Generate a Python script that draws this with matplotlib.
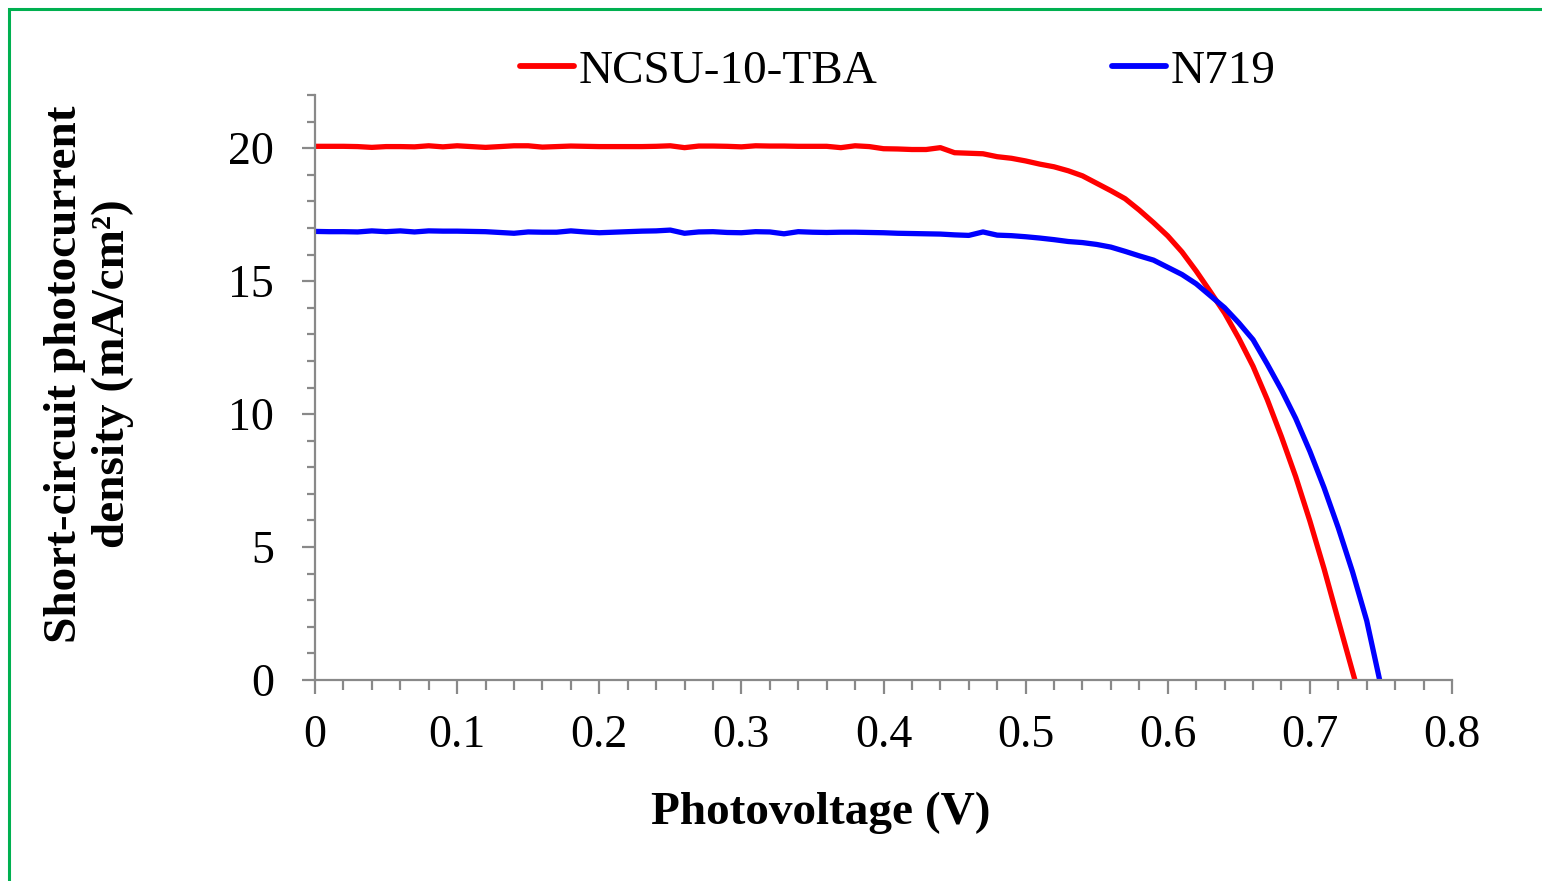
import matplotlib
matplotlib.use("Agg")
import matplotlib.pyplot as plt
from matplotlib.patches import Rectangle
from matplotlib.ticker import MultipleLocator

# ---- data ----
v_ncsu = [0.00, 0.01, 0.02, 0.03, 0.04, 0.05, 0.06, 0.07, 0.08, 0.09,
          0.10, 0.11, 0.12, 0.13, 0.14, 0.15, 0.16, 0.17, 0.18, 0.19,
          0.20, 0.21, 0.22, 0.23, 0.24, 0.25, 0.26, 0.27, 0.28, 0.29,
          0.30, 0.31, 0.32, 0.33, 0.34, 0.35, 0.36, 0.37, 0.38, 0.39,
          0.40, 0.41, 0.42, 0.43, 0.44, 0.45, 0.46, 0.47, 0.48, 0.49,
          0.50, 0.51, 0.52, 0.53, 0.54, 0.55, 0.56, 0.57, 0.58, 0.59,
          0.60, 0.61, 0.62, 0.63, 0.64, 0.65, 0.66, 0.67, 0.68, 0.69,
          0.70, 0.71, 0.72, 0.73, 0.7317]
j_ncsu = [20.07, 20.07, 20.07, 20.06, 20.03, 20.06, 20.06, 20.05, 20.09, 20.05,
          20.09, 20.06, 20.03, 20.06, 20.09, 20.09, 20.04, 20.06, 20.08, 20.07,
          20.06, 20.06, 20.06, 20.06, 20.07, 20.09, 20.02, 20.08, 20.08, 20.07,
          20.05, 20.09, 20.08, 20.08, 20.07, 20.07, 20.07, 20.02, 20.09, 20.06,
          19.98, 19.97, 19.95, 19.95, 20.02, 19.83, 19.81, 19.79, 19.68, 19.62,
          19.52, 19.40, 19.30, 19.15, 18.96, 18.68, 18.40, 18.10, 17.67, 17.20,
          16.70, 16.10, 15.38, 14.60, 13.80, 12.85, 11.80, 10.55, 9.15, 7.65,
          5.98, 4.18, 2.24, 0.32, 0.00]

v_n719 = [0.00, 0.01, 0.02, 0.03, 0.04, 0.05, 0.06, 0.07, 0.08, 0.09,
          0.10, 0.11, 0.12, 0.13, 0.14, 0.15, 0.16, 0.17, 0.18, 0.19,
          0.20, 0.21, 0.22, 0.23, 0.24, 0.25, 0.26, 0.27, 0.28, 0.29,
          0.30, 0.31, 0.32, 0.33, 0.34, 0.35, 0.36, 0.37, 0.38, 0.39,
          0.40, 0.41, 0.42, 0.43, 0.44, 0.45, 0.46, 0.47, 0.48, 0.49,
          0.50, 0.51, 0.52, 0.53, 0.54, 0.55, 0.56, 0.57, 0.58, 0.59,
          0.60, 0.61, 0.62, 0.63, 0.64, 0.65, 0.66, 0.67, 0.68, 0.69,
          0.70, 0.71, 0.72, 0.73, 0.74, 0.7491]
j_n719 = [16.87, 16.86, 16.86, 16.85, 16.89, 16.86, 16.89, 16.85, 16.89, 16.88,
          16.88, 16.87, 16.86, 16.83, 16.80, 16.85, 16.84, 16.84, 16.89, 16.85,
          16.82, 16.84, 16.86, 16.88, 16.89, 16.92, 16.80, 16.85, 16.86, 16.83,
          16.82, 16.86, 16.85, 16.78, 16.86, 16.84, 16.83, 16.84, 16.84, 16.83,
          16.82, 16.80, 16.79, 16.78, 16.77, 16.74, 16.72, 16.85, 16.73, 16.71,
          16.67, 16.62, 16.56, 16.49, 16.45, 16.38, 16.28, 16.12, 15.95, 15.79,
          15.52, 15.25, 14.90, 14.45, 14.00, 13.43, 12.80, 11.88, 10.91, 9.84,
          8.60, 7.23, 5.72, 4.07, 2.23, 0.00]

series_labels = ["NCSU-10-TBA", "N719"]
series_colors = ["#FF0000", "#0000FF"]
x_ticks = [0, 0.1, 0.2, 0.3, 0.4, 0.5, 0.6, 0.7, 0.8]
x_tick_labels = ["0", "0.1", "0.2", "0.3", "0.4", "0.5", "0.6", "0.7", "0.8"]
y_ticks = [0, 5, 10, 15, 20]
x_label = "Photovoltage (V)"
y_label = "Short-circuit photocurrent\ndensity (mA/cm²)"

# ---- figure ----
plt.rcParams['font.family'] = ['Liberation Serif', 'DejaVu Serif']

W, H = 1542, 881
fig = plt.figure(figsize=(W / 100, H / 100), dpi=100)
fig.patch.set_facecolor('white')

ax = fig.add_axes([315 / W, 1 - 680 / H, (1452 - 315) / W, (680 - 95) / H])

gray = "#898989"
l1, = ax.plot(v_ncsu, j_ncsu, color=series_colors[0], lw=3.8,
              solid_capstyle='round', solid_joinstyle='round', label=series_labels[0])
l2, = ax.plot(v_n719, j_n719, color=series_colors[1], lw=3.8,
              solid_capstyle='round', solid_joinstyle='round', label=series_labels[1])

ax.set_xlim(0, 0.8)
ax.set_ylim(0, 22)
ax.set_xticks(x_ticks)
ax.set_xticklabels(x_tick_labels)
ax.set_yticks(y_ticks)
ax.xaxis.set_minor_locator(MultipleLocator(0.02))
ax.yaxis.set_minor_locator(MultipleLocator(1))

for s in ['top', 'right']:
    ax.spines[s].set_visible(False)
for s in ['left', 'bottom']:
    ax.spines[s].set_color(gray)
    ax.spines[s].set_linewidth(1.6)

ax.tick_params(axis='x', which='major', direction='out', length=10, width=1.6,
               color=gray, labelsize=33, pad=15, labelcolor='black')
ax.tick_params(axis='x', which='minor', direction='out', length=7, width=1.6, color=gray)
ax.tick_params(axis='y', which='major', direction='out', length=9.5, width=1.6,
               color=gray, labelsize=33, pad=20, labelcolor='black')
ax.tick_params(axis='y', which='minor', direction='out', length=6, width=1.6, color=gray)

fig.text(821 / W, 1 - 813 / H, x_label, ha='center', va='center',
         fontsize=34, fontweight='bold')
fig.text(89 / W, 1 - 374 / H, y_label, ha='center', va='center', rotation=90,
         fontsize=34, fontweight='bold', multialignment='center', linespacing=1.15)

leg = fig.legend(handles=[l1, l2], loc='center left',
                 bbox_to_anchor=(520 / W, 1 - 71 / H), ncol=2, frameon=False,
                 fontsize=34, handlelength=1.15, handletextpad=0.1,
                 columnspacing=4.95, borderpad=0, borderaxespad=0)
for h in leg.get_lines():
    h.set_linewidth(4.2)
    h.set_solid_capstyle('round')

# green frame around the chart
fig.patches.append(Rectangle((9 / W, -0.05), 1.2, 1 - 9 / H + 0.05,
                             transform=fig.transFigure, fill=False,
                             edgecolor="#00B050", linewidth=2.2))

fig.savefig("out.png", dpi=100, facecolor='white')
